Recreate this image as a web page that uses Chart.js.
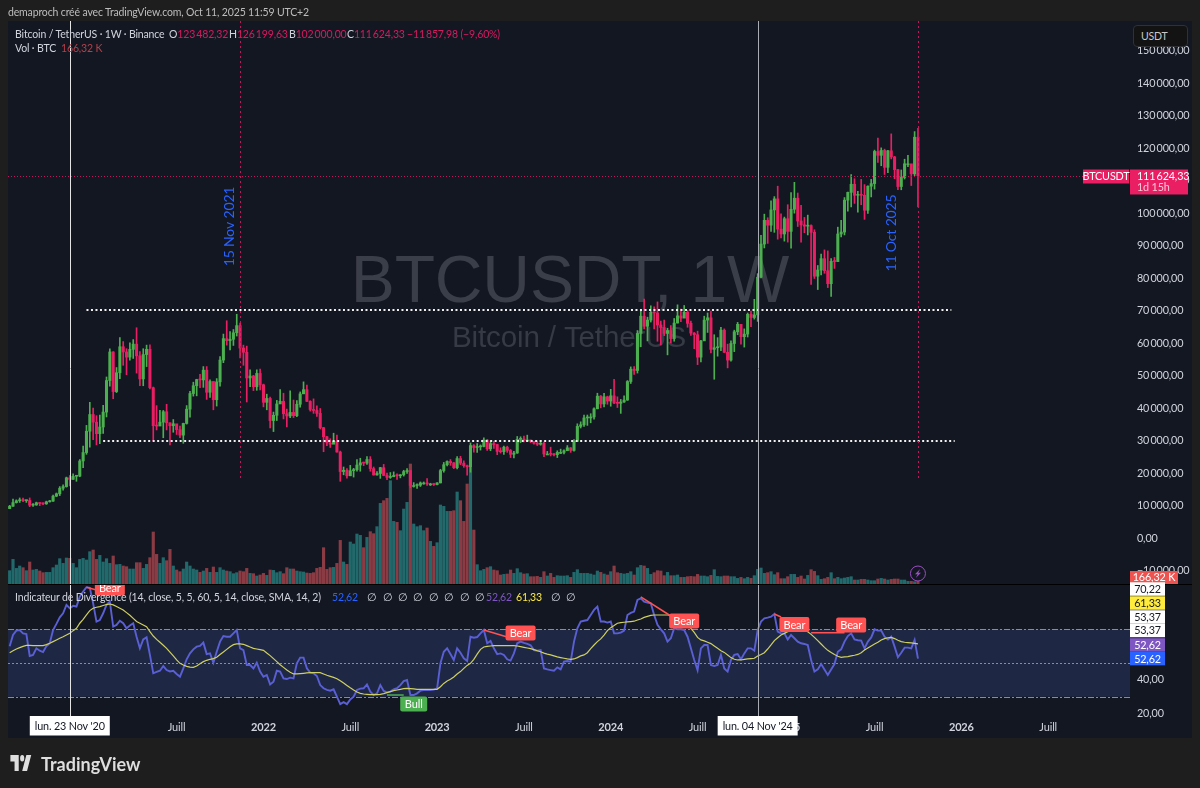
<!DOCTYPE html>
<html lang="fr">
<head>
<meta charset="utf-8">
<title>BTCUSDT 1W</title>
<script src="https://cdn.jsdelivr.net/npm/chart.js@4"></script>
<style>
  html, body { margin: 0; padding: 0; background: #1e1e1e; width: 1200px; height: 788px; overflow: hidden; }
  body { position: relative; font-family: "Lato", "Noto Sans", sans-serif; font-size: 10.5px; letter-spacing: -0.15px; color: #d1d4dc; }
  canvas { position: absolute; left: 0; top: 0; }
  .t { position: absolute; white-space: nowrap; line-height: 14px; }
  .pink { color: #d81b60; }
  .usdt { position: absolute; left: 1133px; top: 25px; width: 55px; height: 22px; box-sizing: border-box; padding: 4px 0 0 7px;
          background: #131313; border: 1px solid #2f3135; border-radius: 4px; color: #c8c8c8; }
  .brand { position: absolute; left: 41px; top: 752px; font-size: 18px; line-height: 24px; font-weight: 700; letter-spacing: 0; color: #dedede; }
</style>
</head>
<body>
<canvas id="chart" width="1200" height="788"></canvas>

<div class="t" style="left:8px;top:5px;color:#bdbdbd">demaproch créé avec TradingView.com, Oct 11, 2025 11:59 UTC+2</div>
<div class="t" style="left:15px;top:27px">Bitcoin / TetherUS · 1W · Binance</div>
<div class="t" style="left:169px;top:27px">O<span class="pink">123&thinsp;482,32</span></div>
<div class="t" style="left:229px;top:27px">H<span class="pink">126&thinsp;199,63</span></div>
<div class="t" style="left:289px;top:27px">B<span class="pink">102&thinsp;000,00</span></div>
<div class="t" style="left:347px;top:27px">C<span class="pink">111&thinsp;624,33</span></div>
<div class="t pink" style="left:407px;top:27px">−11&thinsp;857,98 (−9,60%)</div>
<div class="t" style="left:15px;top:41px">Vol · BTC</div>
<div class="t" style="left:61px;top:41px;color:#b5404a">166,32 K</div>
<div class="t" style="left:15px;top:590px">Indicateur de Divergence (14, close, 5, 5, 60, 5, 14, close, SMA, 14, 2)</div>
<div class="t" style="left:332px;top:590px;color:#2962ff">52,62</div>
<div class="t" style="left:486px;top:590px;color:#7e57c2">52,62</div>
<div class="t" style="left:516px;top:590px;color:#ffeb3b">61,33</div>
<div id="nulls"></div>
<div class="usdt">USDT</div>

<svg style="position:absolute;left:9px;top:755px" width="25" height="17" viewBox="0 6 36 16" preserveAspectRatio="none">
  <path fill="#dedede" d="M14 6H2v6h6v9h6V6Zm12 15h-7l6-15h7l-6 15Zm-7-9a3 3 0 1 0 0-6 3 3 0 0 0 0 6Z"/>
</svg>
<div class="brand">TradingView</div>

<script>
/* ── Data (prices in thousands of USDT, volume in K BTC) ────── */

const firstWeek = "2020-07-20";
const closes = [
  9.93,11.05,11.6,11.85,11.65,11.7,10.25,10.33,11.0,10.77,
  10.67,11.3,11.5,13.03,13.76,15.48,15.96,18.67,18.18,19.15,
  19.2,23.86,26.45,33.0,38.15,35.8,32.26,34.3,38.9,48.6,
  57.4,45.2,51.0,59.0,57.4,55.8,58.2,59.8,56.2,49.1,
  56.6,58.2,46.4,34.7,34.6,35.8,39.0,35.6,34.7,35.3,
  33.5,31.8,35.4,39.8,44.6,47.0,48.9,48.8,51.8,45.0,
  48.3,42.7,48.2,54.9,61.5,60.85,61.3,63.3,65.5,58.6,
  57.3,49.4,50.0,46.7,50.8,47.3,41.9,43.1,36.3,37.9,
  41.4,42.2,38.4,37.7,38.8,37.8,41.3,44.5,45.8,42.2,
  39.7,39.4,38.5,34.1,31.3,29.4,29.0,29.9,26.6,20.6,
  21.0,19.3,20.85,21.2,22.6,23.3,23.2,24.3,21.5,19.55,
  20.0,21.8,19.4,18.8,19.0,19.4,19.3,19.6,20.6,20.9,
  16.3,16.3,16.4,17.1,17.1,16.8,16.8,16.6,17.1,20.9,
  22.7,23.7,23.3,21.8,24.6,23.2,22.4,22.1,28.6,28.0,
  28.2,28.3,30.3,27.6,29.2,28.9,26.8,26.7,28.1,27.1,
  25.9,26.3,30.5,30.6,30.3,30.3,29.9,29.3,29.0,29.3,
  26.0,26.0,25.9,25.8,26.5,26.5,27.0,27.9,27.1,29.9,
  34.5,35.0,37.1,37.4,37.4,39.9,43.8,41.4,43.6,42.3,
  43.9,41.7,41.6,42.0,42.6,48.3,52.1,51.7,63.1,68.4,
  65.3,67.2,69.6,69.4,65.7,64.9,63.1,64.0,61.5,66.3,
  68.5,67.8,69.6,66.2,63.2,62.7,55.8,60.8,67.2,67.9,
  58.2,58.7,58.9,64.1,57.3,54.9,60.0,63.6,65.9,62.1,
  62.9,69.0,68.0,68.8,80.4,90.6,97.9,96.4,101.1,104.5,
  95.2,93.7,98.4,94.5,101.3,104.7,97.7,96.5,96.1,96.3,
  94.2,80.7,82.6,86.1,82.4,78.4,85.3,85.2,93.7,94.3,
  104.1,106.5,109.0,105.6,105.7,105.6,101.0,108.4,109.2,119.1,
  117.9,119.4,114.2,119.3,117.4,113.5,108.3,111.1,115.3,115.3,
  112.2,123.48,111.62
];
const highs = [
  10.2,12.1,11.9,12.48,12.47,11.8,12.48,10.75,11.2,11.0,
  11.0,11.5,11.75,13.35,14.0,15.97,16.5,18.9,19.4,19.9,
  19.4,24.3,28.4,34.8,41.9,40.1,37.8,38.0,41.0,49.7,
  58.35,57.5,52.6,61.8,60.6,58.4,60.2,61.2,64.85,57.5,
  58.4,59.5,59.6,46.6,40.9,39.4,39.4,41.3,35.6,36.6,
  35.1,34.6,35.5,40.9,45.3,48.1,49.0,50.5,52.9,52.9,
  48.8,48.3,49.2,56.0,62.9,67.0,63.7,64.3,69.0,66.3,
  59.5,59.2,51.9,50.2,51.9,52.1,47.5,44.4,43.5,38.9,
  42.5,45.8,44.7,39.8,45.4,42.6,42.4,45.1,48.2,47.2,
  42.4,42.97,40.8,40.0,34.2,31.4,30.7,32.4,31.8,26.9,
  22.0,21.5,22.5,21.6,24.3,24.7,23.5,25.2,25.2,22.0,
  20.6,21.9,22.8,20.1,20.3,20.5,19.9,19.7,21.0,21.5,
  21.0,17.2,16.8,17.4,17.4,18.4,17.0,17.0,17.2,21.3,
  23.4,23.9,24.3,23.4,25.2,25.3,23.9,22.6,29.4,28.9,
  29.2,28.8,31.0,30.5,30.0,29.9,29.0,27.9,28.4,28.4,
  27.4,26.8,31.4,31.3,31.5,31.8,30.3,29.7,30.0,30.2,
  29.7,26.8,28.1,26.1,27.0,27.5,27.3,28.6,28.0,30.4,
  35.3,35.9,38.0,38.0,38.4,40.2,44.7,44.0,44.7,43.8,
  45.9,49.0,43.6,42.8,43.9,48.6,52.8,52.9,64.0,70.0,
  73.7,68.1,71.6,71.3,72.8,66.9,67.2,64.7,65.5,67.7,
  71.9,70.6,71.7,70.2,66.9,63.4,63.8,61.0,68.4,69.4,
  70.0,62.7,61.8,65.0,64.5,59.8,60.8,64.1,66.5,65.6,
  64.5,69.4,70.0,73.6,81.5,93.3,99.8,98.7,103.9,105.2,
  108.4,99.9,98.9,102.7,106.4,109.6,106.3,102.5,98.8,99.5,
  96.5,95.0,84.0,87.5,88.8,88.5,86.1,86.5,95.8,97.9,
  104.9,106.6,112.0,110.7,106.8,110.5,108.9,108.5,110.5,119.5,
  123.2,120.2,119.8,119.4,124.5,117.6,113.6,113.4,116.7,117.9,
  113.5,125.2,126.2
];
const lows = [
  9.15,9.9,10.9,11.1,11.35,11.1,9.8,9.87,10.2,10.1,
  10.4,10.5,11.2,11.4,12.9,13.2,14.85,15.8,16.2,18.2,
  17.6,19.0,21.8,25.9,28.1,30.4,28.8,29.2,32.3,37.4,
  46.9,43.0,44.9,49.2,53.3,50.4,54.9,55.4,50.9,47.0,
  47.0,52.9,46.0,30.0,33.4,34.8,31.0,33.4,28.8,32.7,
  32.0,31.0,29.3,35.2,37.3,43.8,43.9,46.4,46.5,42.8,
  43.4,39.6,40.75,46.9,54.1,59.5,58.0,59.4,62.3,55.6,
  53.3,42.0,46.7,45.5,45.6,45.7,40.5,39.6,34.0,32.9,
  36.3,41.6,36.8,34.3,37.2,37.2,37.5,40.4,44.9,42.1,
  39.2,38.5,37.6,33.7,26.7,28.6,28.0,29.3,26.6,17.6,
  19.6,18.6,19.3,18.9,20.7,20.7,22.4,22.8,20.7,19.5,
  19.5,18.5,19.3,18.1,18.5,19.0,18.2,18.65,19.2,20.0,
  15.6,15.8,15.4,16.0,16.7,16.3,16.3,16.3,16.5,17.1,
  20.4,22.3,22.5,21.5,21.4,22.7,21.9,19.5,20.4,26.6,
  26.5,27.2,28.2,27.1,27.0,27.7,25.8,26.3,25.9,26.5,
  24.9,24.8,26.2,29.5,29.7,29.9,29.5,29.0,28.6,28.7,
  25.2,25.8,25.4,25.4,24.9,26.1,26.0,27.2,26.5,26.9,
  29.8,34.0,34.5,34.8,35.6,36.7,39.9,40.2,40.5,41.3,
  40.7,41.5,40.3,38.5,41.9,42.5,47.7,50.5,50.9,59.0,
  64.5,60.8,66.6,64.5,60.7,59.6,62.4,56.5,60.2,60.7,
  66.3,66.7,68.4,65.0,62.5,58.4,53.5,54.3,62.4,63.4,
  57.1,49.0,56.1,57.8,57.2,52.5,54.6,57.5,62.7,59.8,
  58.9,62.0,65.2,67.5,66.8,80.2,89.4,90.8,94.5,94.2,
  92.1,92.5,91.5,91.2,89.3,100.1,96.0,91.2,94.1,93.4,
  78.2,80.0,76.6,81.1,81.6,77.2,74.5,83.1,85.2,92.8,
  93.4,100.7,102.0,103.1,100.4,102.7,98.2,100.0,105.1,107.5,
  115.7,114.7,112.0,112.6,116.8,110.7,107.3,107.3,110.6,114.4,
  108.6,111.6,102.0
];
// each week opens where the previous one closed
const opens = [9.19, ...closes.slice(0, -1)];

const volumes = [
  333,616,391,450,408,333,550,350,366,325,
  283,291,291,408,475,633,516,650,641,516,
  408,616,641,600,808,850,616,716,550,633,
  516,700,483,491,450,433,375,375,533,533,
  391,491,658,1300,741,516,658,583,866,450,
  350,308,375,550,450,375,350,291,325,391,
  291,425,291,408,350,325,308,258,283,325,
  308,391,266,258,200,225,266,216,350,341,
  283,308,258,408,375,375,325,308,300,275,
  266,283,391,416,908,366,408,416,516,1091,
  550,491,1050,1000,1250,1216,908,1166,1308,1258,
  1433,2016,2083,2141,2583,1566,1541,1333,1874,2041,
  3000,1500,1433,1458,1333,1400,1066,941,1033,1975,
  1941,1816,1816,1833,2300,2083,1566,2500,2916,1350,
  483,333,366,408,433,350,333,225,241,250,
  350,266,383,283,250,258,183,183,191,166,
  308,200,266,166,208,200,200,208,166,291,
  358,266,266,266,250,225,325,291,250,225,
  308,450,283,266,250,266,308,225,408,466,
  450,391,241,283,333,325,208,291,208,208,
  225,166,166,183,191,183,241,200,200,183,
  216,358,191,183,200,200,183,183,141,166,
  133,166,141,208,366,400,266,283,308,233,
  283,133,133,183,241,241,166,200,125,216,
  358,316,208,116,133,166,283,133,166,133,
  150,166,183,100,100,116,116,100,83,83,
  125,141,125,100,116,125,125,100,100,66,
  66,58,166.32
];

const rsi = [
  60,66.6,69.2,69.6,67.6,67.2,54.2,54.8,58.7,57.3,
  56.5,60,61.7,69.6,73.2,77.1,79.5,84.5,82.5,83.9,
  83.5,89.4,92.4,95,94.6,85.4,74.6,75.5,79.5,84.5,
  86.4,71.6,72.6,75.1,73.6,70.6,72.2,73.6,65.6,58.7,
  64,65.2,54.8,43.9,44.7,45.4,48.2,45.8,45,45.4,
  43.5,41.9,46.8,52.2,55.7,58.1,59.7,60.1,62.1,55.3,
  55.7,50.2,56.7,62.7,66,65.6,65.6,67.6,69.6,58.7,
  57.7,48.8,48.8,46.8,50.2,44.9,41.9,42.9,37.3,38.9,
  45.4,44.9,40.9,40.5,41.3,40.9,49.8,53.2,53.2,46.8,
  44.3,43.9,42.3,36.9,35,34,33.6,34.4,30,25.6,
  26.8,25.6,28.4,30,34,34.8,35,37.3,33,31,
  32,36.9,33.4,32.6,33,34.4,35,36.9,39.3,39.9,
  31,31,32,33.6,34,34,34,34.2,35,49.8,
  56.7,58.7,55.3,51.8,58.7,56.1,52.8,51.2,65.6,65,
  65.4,67.6,69.6,61.7,63.1,58.7,55.3,55.7,54.8,52.2,
  51.4,55.7,61.7,62.7,61.9,61.3,60.5,57.7,57.3,57.7,
  46.8,46.2,45.8,45.4,47.4,46.2,50.8,51.2,50.8,62.7,
  70.6,74.6,75.1,75.5,78.5,81.5,83.5,74.6,74.6,74,
  74.6,67.6,67.6,68,69.2,78.5,79.7,80.5,87.4,88.4,
  86.4,85.8,85.4,78.5,72.6,70,67.6,62.7,64.7,70.6,
  70,70,69.6,65.6,58.7,51.8,45.8,58.7,60.7,60.7,
  48.8,48.2,48.8,54.8,46.8,44.9,51.8,54.8,55.3,52.2,
  55.7,58.7,58.7,57.3,69.6,74.6,76.5,76.9,77.5,79.1,
  68.6,67.6,67.6,64,66.6,64.7,62.7,61.7,61.3,60.7,
  51.8,44.9,46.2,49.4,46.2,42.9,46.2,49.4,56.7,58.1,
  62.7,66,67.6,64,63.5,63.3,58.7,62.7,65.2,70,
  69.2,69.2,65.6,64,65.6,59.7,53.4,56.1,59.1,59.1,
  58.7,63.7,52.62
];
const rsiMa = [
  56.1,57.3,58.3,59.1,59.9,60.5,60.5,60.3,60.3,60.3,
  60.3,60.9,61.7,62.7,63.7,64.7,65.6,66.6,67.6,69.2,
  70.6,73.6,75.9,78.5,81.1,82.5,83.1,83.5,84.1,84.7,
  85,84.5,83.5,82.5,81.5,79.9,78.3,76.5,74.6,73.6,
  72.6,71.6,68.6,66,64,62.3,60.5,58.7,56.5,54.2,
  51.8,49.8,48.8,48,47.6,47.4,48.2,49.6,50.8,51.6,
  52.2,52.6,53.4,55,56.5,58.1,59.7,60.9,61.3,61.3,
  61.1,60.3,59.5,58.7,58.3,57.9,57.5,55.9,54.4,52.6,
  50.8,49,47.4,45.8,44.5,43.5,43.5,43.7,43.9,44.1,
  44.3,44.3,44.3,44.3,43.5,42.7,42.1,41.5,40.7,39.5,
  38.1,36.7,35.3,34,32.8,32,31.6,31.4,31.2,31.2,
  31.2,31.4,31.8,32.4,33,33.6,34,34.4,34.8,35,
  34.8,34.6,34.4,34.4,34.4,34.4,34.4,34.4,34.4,35.9,
  37.9,39.3,40.3,41.7,43.5,44.9,46.8,48.6,49.8,52.2,
  55.3,58.1,59.5,59.9,60.1,60.3,60.3,60.3,60.3,60.3,
  60.3,60.3,60.1,59.7,59.3,58.9,58.5,57.9,57.3,56.7,
  55.9,55.3,54.8,54.2,53.6,53.2,52.8,52.4,52.2,52.4,
  53.2,54.2,54.8,56.1,58.5,60.7,62.7,64.3,66.6,69.2,
  71,72.2,73.6,74,74.2,74.4,74.6,74.8,75.5,76.1,
  77.1,77.7,78.3,78.5,78.5,78.5,78.5,78.5,78.3,77.5,
  76.7,75.9,74.6,72.6,70.6,68.2,65.2,63.7,63.1,62.3,
  61.5,60.1,58.7,57.3,56.3,54.8,53.2,52.2,51.8,51.8,
  52.2,52.4,52.6,52.8,54.2,55,56.1,58.3,60.7,63.3,
  65,66.6,67.6,68.6,69.2,69.4,69.6,69.6,69.4,68.6,
  67,65.2,63.3,61.3,59.3,57.5,56.3,55,54,53.4,
  53.6,53.8,54.2,54.6,55.1,56.1,57.7,58.9,60.1,61.3,
  62.3,63.7,64.5,65,65.2,64.5,63.5,62.7,62.3,62.1,
  61.9,61.7,61.33
];

const priceTicks = [150,140,130,120,110,100,90,80,70,60,50,40,30,20,10,0,-10];
const rsiTicks = [40, 20];
const rsiLevels = [70, 50, 30];
const xTickWeeks = [24, 50, 76, 102, 128, 154, 180, 206, 233, 259, 285, 311];
const xTickLabels = ["2021", "Juill", "2022", "Juill", "2023", "Juill", "2024", "Juill", "2025", "Juill", "2026", "Juill"];
const totalWeeks = 336;

// drawn levels and markers on the chart
const supportLevels = [
  { price: 70.3, from: 23, to: 282 },
  { price: 30.0, from: 28, to: 283 }
];
const crosshairs = [
  { week: 18, label: "lun. 23 Nov '20", color: "#e4e4e4" },
  { week: 224, label: "lun. 04 Nov '24", color: "#a9acb3" }
];
const dateMarks = [
  { week: 69, label: "15 Nov 2021", bottomPrice: 18, textX: -11, textPrice: 96 },
  { week: 272, label: "11 Oct 2025", bottomPrice: 18, textX: -27, textPrice: 94 }
];
const divergences = [
  { from: 23, fromRsi: 95, to: 26, toRsi: 93.3, week: 30, at: 94.5, text: "Bear", color: "#ff5252" },
  { from: 142, fromRsi: 69.6, to: 149, toRsi: 65.4, week: 153, at: 67.8, text: "Bear", color: "#ff5252" },
  { from: 189, fromRsi: 89.2, to: 198, toRsi: 77.9, week: 202, at: 74.9, text: "Bear", color: "#ff5252" },
  { from: 229, fromRsi: 79.1, to: 231, toRsi: 77.3, week: 235, at: 72.8, text: "Bear", color: "#ff5252" },
  { from: 240, fromRsi: 68, to: 250, toRsi: 68, week: 252, at: 72.5, text: "Bear", color: "#ff5252" },
  { from: 113, fromRsi: 31, to: 118, toRsi: 31, week: 121, at: 25.7, text: "Bull", color: "#4caf50" }
];
const rsiTags = [
  { value: "70,22", y: 93.9, bg: "#ffffff", fg: "#131722" },
  { value: "61,33", y: 85.6, bg: "#ffeb3b", fg: "#131722" },
  { value: "53,37", y: 77.3, bg: "#ffffff", fg: "#131722" },
  { value: "53,37", y: 69.3, bg: "#ffffff", fg: "#131722" },
  { value: "52,62", y: 60.7, bg: "#7e57c2", fg: "#ffffff" },
  { value: "52,62", y: 52.62, bg: "#2962ff", fg: "#ffffff" }
];

const UI_FONT = '"Lato", "Noto Sans", sans-serif';
const UP = "#4caf50", DOWN = "#e91e63";
const VOL_UP = "#22696c", VOL_DOWN = "#8a3b44";

/* ── Helpers ────────────────────────────────────────────────── */

const weekLabels = Array.from({ length: totalWeeks }, (_, i) => {
  const d = new Date(firstWeek);
  d.setDate(d.getDate() + i * 7);
  return d.toISOString().slice(0, 10);
});

function fmtPrice(k) {
  const neg = k < 0;
  const whole = String(Math.abs(k) * 1000).replace(/\B(?=(\d{3})+$)/g, "\u2009");
  return (neg ? "\u2212" : "") + whole + ",00";
}

function isUp(i) { return closes[i] >= opens[i]; }

document.getElementById("nulls").innerHTML =
  [367, 383, 398, 413, 429, 444, 460, 475, 551, 566]
    .map(x => `<div class="t" style="left:${x}px;top:590px">∅</div>`).join("");

/* ── Plugin: panes, levels, tags ────────────────────────────── */

function tag(ctx, x, y, w, h, bg, fg, text, align) {
  ctx.fillStyle = bg;
  ctx.fillRect(x, y - h / 2, w, h);
  ctx.fillStyle = fg;
  ctx.textAlign = align || "center";
  ctx.textBaseline = "middle";
  ctx.fillText(text, align === "left" ? x + 7 : x + w / 2, y + 0.5);
}

const overlay = {
  id: "overlay",
  beforeDraw(chart) {
    const { ctx } = chart;
    ctx.fillStyle = "#131722";
    ctx.fillRect(8, 21, 1184, 717);
  },
  beforeDatasetsDraw(chart) {
    const { ctx, chartArea: a, scales } = chart;
    const yR = scales.yRsi;
    ctx.save();

    // watermark
    ctx.textAlign = "center";
    ctx.textBaseline = "middle";
    ctx.fillStyle = "#3a3e48";
    ctx.font = `66px "Liberation Sans", sans-serif`;
    ctx.fillText("BTCUSDT, 1W", 570, 284);
    ctx.fillStyle = "#363a45";
    ctx.font = `29.6px "Liberation Sans", sans-serif`;
    ctx.fillText("Bitcoin / TetherUS", 569, 339);

    // divergence band
    ctx.fillStyle = "#1e2845";
    ctx.fillRect(a.left, yR.getPixelForValue(70), a.width, yR.getPixelForValue(30) - yR.getPixelForValue(70));
    ctx.strokeStyle = "#8a8d96";
    ctx.lineWidth = 1;
    rsiLevels.forEach(v => {
      const y = Math.round(yR.getPixelForValue(v)) + 0.5;
      ctx.setLineDash(v === 50 ? [2, 2] : [6, 2, 2, 2]);
      ctx.beginPath(); ctx.moveTo(a.left, y); ctx.lineTo(a.right, y); ctx.stroke();
    });
    ctx.restore();
  },
  afterDatasetsDraw(chart) {
    const { ctx, chartArea: a, scales } = chart;
    const x = scales.x, yP = scales.y, yR = scales.yRsi;
    ctx.save();

    // dotted support levels
    ctx.strokeStyle = "#f2f2f2";
    ctx.lineWidth = 2;
    ctx.setLineDash([2, 2.5]);
    supportLevels.forEach(l => {
      const y = yP.getPixelForValue(l.price);
      ctx.beginPath(); ctx.moveTo(x.getPixelForValue(l.from), y); ctx.lineTo(x.getPixelForValue(l.to), y); ctx.stroke();
    });

    // last price line
    ctx.strokeStyle = "#c2185b";
    ctx.lineWidth = 1;
    ctx.setLineDash([1, 2]);
    const lastY = Math.round(yP.getPixelForValue(closes[closes.length - 1])) + 0.5;
    ctx.beginPath(); ctx.moveTo(a.left, lastY); ctx.lineTo(1083, lastY); ctx.stroke();

    // pink date markers
    dateMarks.forEach(m => {
      const px = Math.round(x.getPixelForValue(m.week)) + 0.5;
      ctx.strokeStyle = "#c2185b";
      ctx.lineWidth = 1;
      ctx.setLineDash([2, 3]);
      ctx.beginPath(); ctx.moveTo(px, a.top); ctx.lineTo(px, yP.getPixelForValue(m.bottomPrice)); ctx.stroke();
      ctx.save();
      ctx.translate(px + m.textX, yP.getPixelForValue(m.textPrice));
      ctx.rotate(-Math.PI / 2);
      ctx.fillStyle = "#2962ff";
      ctx.font = `14px ${UI_FONT}`;
      ctx.textAlign = "center";
      ctx.textBaseline = "middle";
      ctx.fillText(m.label, 0, 0);
      ctx.restore();
    });
    ctx.setLineDash([]);

    // crosshair verticals
    crosshairs.forEach(c => {
      const px = Math.round(x.getPixelForValue(c.week)) + 0.5;
      ctx.strokeStyle = c.color;
      ctx.lineWidth = 1;
      ctx.beginPath(); ctx.moveTo(px, a.top); ctx.lineTo(px, a.bottom + 3); ctx.stroke();
    });

    // pane divider
    ctx.strokeStyle = "#000000";
    ctx.beginPath(); ctx.moveTo(8, 584.5); ctx.lineTo(1192, 584.5); ctx.stroke();

    // divergence lines + labels
    ctx.save();
    ctx.beginPath(); ctx.rect(8, 585, 1184, 130); ctx.clip();
    ctx.font = `11px ${UI_FONT}`;
    divergences.forEach(d => {
      ctx.strokeStyle = d.color;
      ctx.lineWidth = 1.5;
      ctx.beginPath();
      ctx.moveTo(x.getPixelForValue(d.from), yR.getPixelForValue(d.fromRsi));
      ctx.lineTo(x.getPixelForValue(d.to), yR.getPixelForValue(d.toRsi));
      ctx.stroke();
      const cx = x.getPixelForValue(d.week), cy = yR.getPixelForValue(d.at);
      const w = d.text === "Bull" ? 27 : 30;
      ctx.fillStyle = d.color;
      ctx.beginPath(); ctx.roundRect(cx - w / 2, cy - 7.5, w, 15, 2); ctx.fill();
      ctx.fillStyle = "#ffffff";
      ctx.textAlign = "center";
      ctx.textBaseline = "middle";
      ctx.fillText(d.text, cx, cy + 0.5);
    });
    ctx.restore();

    // rsi scale labels
    ctx.font = `10.8px ${UI_FONT}`;
    ctx.fillStyle = "#d1d4dc";
    ctx.textAlign = "left";
    ctx.textBaseline = "middle";
    rsiTicks.forEach(v => ctx.fillText(v.toFixed(2).replace(".", ","), 1137, yR.getPixelForValue(v)));

    // right side tags
    tag(ctx, 1083, 176.5, 46, 14, "#e91e63", "#ffffff", "BTCUSDT");
    ctx.fillStyle = "#e91e63";
    ctx.fillRect(1130, 169.5, 58, 25);
    ctx.textAlign = "left";
    ctx.fillStyle = "#ffffff";
    ctx.fillText("111\u2009624,33", 1137, 176.5);
    ctx.fillStyle = "#f8c6d8";
    ctx.fillText("1d 15h", 1137, 188);
    tag(ctx, 1130, 577.5, 48, 13, "#ef5350", "#ffffff", "166,32 K");
    rsiTags.forEach(t => tag(ctx, 1130, yR.getPixelForValue(t.y), 35, 13.5, t.bg, t.fg, t.value));

    // crosshair date boxes
    crosshairs.forEach(c => {
      const px = x.getPixelForValue(c.week);
      ctx.fillStyle = "#ffffff";
      ctx.fillRect(px - 40, 716, 80, 19.5);
      ctx.fillStyle = "#131722";
      ctx.textAlign = "center";
      ctx.fillText(c.label, px, 726.5);
    });

    // bolt button
    const bx = x.getPixelForValue(closes.length - 1), by = 573.5;
    ctx.strokeStyle = "#9c4fc4";
    ctx.lineWidth = 1;
    ctx.fillStyle = "#131722";
    ctx.beginPath(); ctx.arc(bx, by, 7.5, 0, Math.PI * 2); ctx.fill(); ctx.stroke();
    ctx.fillStyle = "#9c4fc4";
    ctx.beginPath();
    ctx.moveTo(bx + 2.2, by - 4.5); ctx.lineTo(bx - 3, by + 0.8); ctx.lineTo(bx - 0.3, by + 0.8);
    ctx.lineTo(bx - 2.2, by + 4.5); ctx.lineTo(bx + 3, by - 0.8); ctx.lineTo(bx + 0.3, by - 0.8);
    ctx.closePath(); ctx.fill();
    ctx.restore();
  }
};

/* ── Chart ──────────────────────────────────────────────────── */

new Chart(document.getElementById("chart"), {
  type: "bar",
  data: {
    labels: weekLabels,
    datasets: [
      {
        type: "line", label: "Divergence", data: rsi, yAxisID: "yRsi", order: 1,
        borderColor: "#5a5fd4", borderWidth: 1.9, pointRadius: 0, tension: 0
      },
      {
        type: "line", label: "SMA", data: rsiMa, yAxisID: "yRsi", order: 0,
        borderColor: "#cfcf62", borderWidth: 1.2, pointRadius: 0, tension: 0
      },
      {
        label: "Body", data: closes.map((c, i) => [opens[i], c]), yAxisID: "y", order: 2,
        backgroundColor: closes.map((_, i) => isUp(i) ? UP : DOWN),
        barThickness: 2.4, minBarLength: 1
      },
      {
        label: "Wick", data: lows.map((l, i) => [l, highs[i]]), yAxisID: "y", order: 3,
        backgroundColor: closes.map((_, i) => isUp(i) ? UP : DOWN),
        barThickness: 1
      },
      {
        label: "Volume", data: volumes, yAxisID: "yVol", order: 4,
        backgroundColor: closes.map((_, i) => isUp(i) ? VOL_UP : VOL_DOWN),
        barThickness: 2.5
      }
    ]
  },
  options: {
    responsive: false,
    animation: false,
    devicePixelRatio: 1,
    datasets: { bar: { grouped: false } },
    layout: { padding: { left: 8, top: 21, right: 0, bottom: 0 } },
    plugins: { legend: { display: false }, tooltip: { enabled: false } },
    scales: {
      x: {
        grid: { display: false },
        border: { display: false },
        afterFit(s) { s.height = 75; },
        afterBuildTicks(s) { s.ticks = xTickWeeks.map(v => ({ value: v })); },
        ticks: {
          autoSkip: false, maxRotation: 0, padding: 0, color: "#d1d4dc",
          font: c => ({ family: UI_FONT, size: 11, weight: /^\d+$/.test(xTickLabels[xTickWeeks.indexOf(c.tick.value)]) ? "700" : "400" }),
          callback: v => xTickLabels[xTickWeeks.indexOf(v)]
        }
      },
      y: {
        position: "right", min: -53.69, max: 159.23, bounds: "data",
        grid: { display: false, drawTicks: false },
        border: { display: false },
        afterFit(s) { s.width = 70; },
        afterBuildTicks(s) { s.ticks = priceTicks.map(v => ({ value: v })); },
        ticks: {
          padding: 7, color: "#d1d4dc", autoSkip: false,
          font: { family: UI_FONT, size: 10.8 },
          callback: v => fmtPrice(v)
        }
      },
      yVol: { display: false, min: -3225, max: 14075, bounds: "data" },
      yRsi: { display: false, min: 20.33, max: 431, bounds: "data" }
    }
  },
  plugins: [overlay]
});
</script>
</body>
</html>
